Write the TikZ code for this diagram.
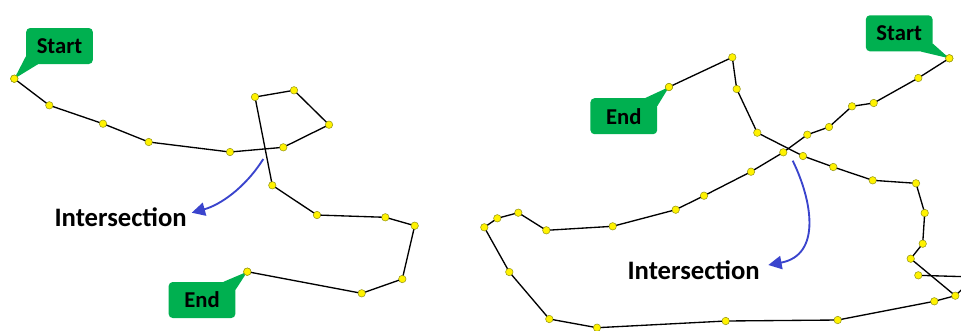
\documentclass[tikz,border=0pt]{standalone}
\usepackage{fontspec}
\setmainfont{Carlito}
\usetikzlibrary{arrows.meta,positioning}
\definecolor{callgreen}{RGB}{0,176,80}
\definecolor{arrblue}{RGB}{58,68,205}
\definecolor{dotrim}{RGB}{150,150,20}
\tikzset{dot/.style={circle, fill=yellow, draw=dotrim, line width=0.4pt, inner sep=0, minimum size=5.6pt, outer sep=0}}
\tikzset{track/.style={draw, black, line width=1pt}}
\tikzset{callbox/.style={rounded corners=3pt, fill=callgreen, minimum width=50pt, minimum height=27pt, inner sep=2pt, font=\fontsize{17}{20}\selectfont\bfseries}}
\tikzset{calltail/.style={fill=callgreen}}
\tikzset{lbl/.style={inner sep=0, font=\fontsize{20}{24}\selectfont\bfseries}}
\tikzset{arr/.style={draw=arrblue, line width=1.4pt, -{Triangle[length=10pt, width=10pt]}}}

\begin{document}
\begin{tikzpicture}[x=0.75pt, y=-0.75pt]
    \clip (0,0) rectangle (961,330);
    % left route
    \foreach \p [count=\i] in {(14.3,78.7),(49.3,105.3),(103,123.7),(148.7,142),(230,152),(283.3,147.3),(329,124.7),(294,90.3),(255,97),(272.3,185.3),(317,215),(385.3,217.3),(414.7,225.7),(402.3,279),(361.7,293.3),(247.3,271.7)}
        \node[dot] (a\i) at \p {};
    \foreach \i [remember=\i as \j (initially 1)] in {2,...,16}
        \draw[track] (a\j) -- (a\i);
    \node[callbox] (S1) at (59.5,46) {Start};
    \fill[calltail] ([yshift=6pt]S1.south west) -- ([xshift=9pt]S1.south west) -- (a1.center) -- cycle;
    \node[callbox] (E1) at (202,300) {End};
    \fill[calltail] ([xshift=-9pt]E1.north east) -- ([yshift=-6pt]E1.north east) -- (a16.center) -- cycle;
    \node[dot] (a1top) at (a1) {};
    \node[dot] (a16top) at (a16) {};
    \node[lbl, anchor=east] (I1) at (187,217) {Intersection};
    \coordinate (c1) at (263.3,159);
    \draw[arr] (c1) .. controls (245,188) and (220,205) .. ([shift={(4.7,-4.3)}]I1.east);

    % right route
    \foreach \p [count=\i] in {(949.3,58.3),(918.3,78),(873.7,103),(852,106.3),(829,127),(807.3,134.7),(783.3,152.3),(751,171.7),(704,195.7),(675.7,209.7),(612.7,226.3),(546.3,230.3),(518.3,212.7),(497.3,218.3),(484.3,227.3),(509.3,272),(549.3,319),(597,327.7),(725.7,321),(837.7,320),(934.3,301.3),(955.3,295.7),(918.3,275.3),(910.7,258.7),(922.7,243.7),(924.7,213),(916,183.3),(872.7,180.3),(833.3,167),(803,156),(757.3,132.7),(736.7,89),(732.3,57.3),(669,87)}
        \node[dot] (b\i) at \p {};
    \foreach \i [remember=\i as \j (initially 1)] in {2,...,22,24,25,...,34}
        \draw[track] (b\j) -- (b\i);
    \coordinate (boff) at (975,277);
    \draw[track] (b22) -- (boff) -- (b23);
    \node[callbox] (S2) at (899.2,33.3) {Start};
    \fill[calltail] ([xshift=-9pt]S2.south east) -- ([yshift=6pt]S2.south east) -- (b1.center) -- cycle;
    \node[callbox] (E2) at (623.8,116.2) {End};
    \fill[calltail] ([xshift=-9pt]E2.north east) -- ([yshift=-6pt]E2.north east) -- (b34.center) -- cycle;
    \node[dot] (b1top) at (b1) {};
    \node[dot] (b34top) at (b34) {};
    \node[lbl, anchor=east] (I2) at (760,270) {Intersection};
    \coordinate (c2) at (792.7,160.7);
    \draw[arr] (c2) .. controls (812,200) and (822,255) .. ([shift={(8.3,-5)}]I2.east);
\end{tikzpicture}
\end{document}
